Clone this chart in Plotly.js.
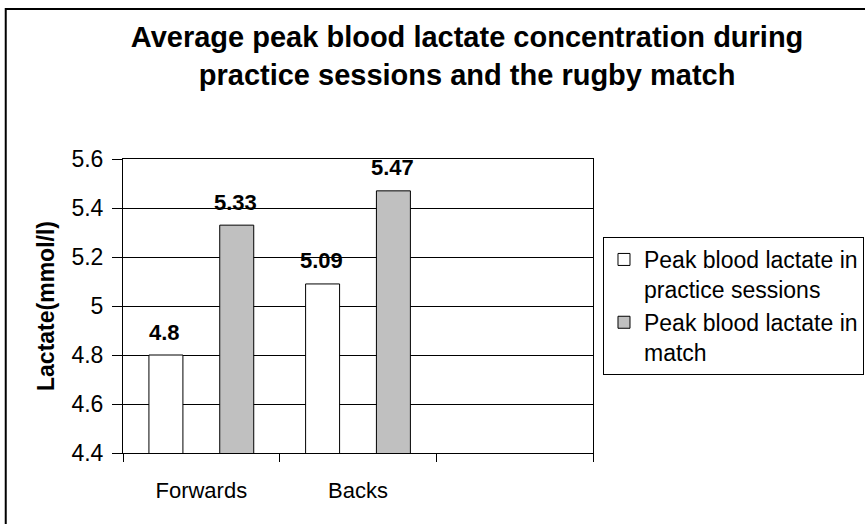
<!DOCTYPE html>
<html>
<head>
<meta charset="utf-8">
<script src="https://cdn.plot.ly/plotly-3.0.1.min.js"></script>
<style>html,body{margin:0;padding:0;background:#fff;}#chart{width:865px;height:524px;}</style>
</head>
<body>
<div id="chart"></div>
<script>
const categories = ["Forwards", "Backs", " "];
const seriesNames = ["Peak blood lactate in<br>practice sessions", "Peak blood lactate in<br>match"];
const practiceValues = [4.8, 5.09];
const matchValues = [5.33, 5.47];
const yTicks = [4.4, 4.6, 4.8, 5.0, 5.2, 5.4, 5.6];
const yTickLabels = ["4.4", "4.6", "4.8", "5", "5.2", "5.4", "5.6"];

const FONT = "Liberation Sans, Arial, sans-serif";
const dataCats = categories.slice(0, 2);

const traces = [
  {type: "bar", name: seriesNames[0], x: dataCats, y: practiceValues,
   marker: {color: "#ffffff", line: {color: "#000", width: 1}}, hoverinfo: "none"},
  {type: "bar", name: seriesNames[1], x: dataCats, y: matchValues,
   marker: {color: "#c0c0c0", line: {color: "#000", width: 1}}, hoverinfo: "none"}
];

const annotations = [];
[[practiceValues, -36], [matchValues, 35]].forEach(([vals, dx]) => {
  vals.forEach((v, i) => {
    annotations.push({x: dataCats[i], y: v, xref: "x", yref: "y", text: "<b>" + v + "</b>",
      showarrow: false, xshift: dx - 1, yshift: 23, yanchor: "middle",
      font: {family: FONT, size: 22, color: "#000"}});
  });
});

const layout = {
  width: 865, height: 524,
  paper_bgcolor: "#fff", plot_bgcolor: "#fff",
  margin: {l: 123, r: 272, t: 159, b: 71},
  font: {family: FONT, color: "#000"},
  title: {text: "<b>Average peak blood lactate concentration during<br>practice sessions and the rugby match</b>",
    font: {family: FONT, size: 29, color: "#000"}, xref: "container", yref: "container",
    x: 0.54, xanchor: "center", y: 0.91, yanchor: "top"},
  barmode: "group", bargap: 0.096, bargroupgap: 0.52,
  xaxis: {type: "category", categoryorder: "array", categoryarray: categories, range: [-0.5, 2.5],
    tickson: "boundaries", ticks: "outside", ticklen: 8, tickcolor: "#000", tickwidth: 1,
    showline: true, linecolor: "#000", linewidth: 1, mirror: true, showgrid: false,
    ticklabelstandoff: 18,
    tickfont: {family: FONT, size: 22, color: "#000"}, fixedrange: true},
  yaxis: {range: [4.4, 5.6], tickvals: yTicks, ticktext: yTickLabels,
    ticks: "outside", ticklen: 10, tickcolor: "#000", tickwidth: 1,
    showline: true, linecolor: "#000", linewidth: 1, mirror: true,
    showgrid: true, gridcolor: "#000", gridwidth: 1, zeroline: false,
    ticklabelstandoff: 4,
    tickfont: {family: FONT, size: 23, color: "#000"},
    title: {text: "<b>Lactate(mmol/l)</b>", font: {family: FONT, size: 23, color: "#000"}, standoff: 10},
    fixedrange: true},
  showlegend: true,
  legend: {xref: "container", yref: "container", x: 0.6971, xanchor: "left", y: 1 - 237 / 524, yanchor: "top", valign: "top",
    bordercolor: "#000", borderwidth: 1, bgcolor: "#fff",
    font: {family: FONT, size: 23, color: "#000"}, traceorder: "normal"},
  annotations: annotations,
  shapes: [{type: "rect", xref: "paper", yref: "paper", x0: -0.2495, x1: 2, y0: -1, y1: 1.51,
    line: {color: "#000", width: 2}, fillcolor: "rgba(0,0,0,0)", layer: "below"}]
};

Plotly.newPlot("chart", traces, layout, {displayModeBar: false, staticPlot: true});
</script>
</body>
</html>
